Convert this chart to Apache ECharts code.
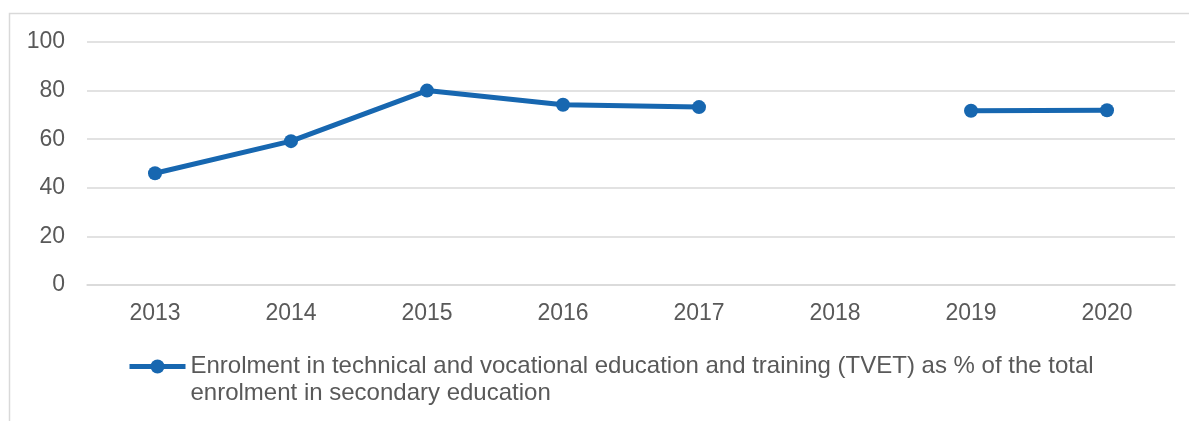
<!DOCTYPE html>
<html>
<head>
<meta charset="utf-8">
<script src="https://cdn.jsdelivr.net/npm/echarts@6/dist/echarts.min.js"></script>
<style>
html,body{margin:0;padding:0;background:#fff;}
#c{width:1189px;height:421px;}
</style>
</head>
<body>
<div id="c"></div>
<script>
const categories = ['2013','2014','2015','2016','2017','2018','2019','2020'];
const tvetShare = [46, 59.2, 80, 74.2, 73.2, null, 71.7, 71.9];
const seriesName = 'Enrolment in technical and vocational education and training (TVET) as % of the total\nenrolment in secondary education';
const yTicks = [0, 20, 40, 60, 80, 100];

const chart = echarts.init(document.getElementById('c'), null, {renderer:'canvas'});
const font = 'Liberation Sans, Arial, sans-serif';
const blue = '#1767b0';
chart.setOption({
  animation: false,
  backgroundColor: '#ffffff',
  graphic: [{
    type: 'rect',
    shape: {x: 9.5, y: 13.5, width: 1200, height: 500},
    style: {fill: 'none', stroke: '#d9d9d9', lineWidth: 1.5},
    silent: true, z: -1
  }],
  grid: {left: 87, right: 14, top: 42, bottom: 136},
  xAxis: {
    type: 'category',
    data: categories,
    boundaryGap: true,
    axisLine: {show: true, lineStyle: {color: '#d9d9d9', width: 1.5}},
    axisTick: {show: false},
    axisLabel: {color: '#595959', fontSize: 23, fontFamily: font, margin: 17}
  },
  yAxis: {
    type: 'value',
    min: yTicks[0],
    max: yTicks[yTicks.length - 1],
    interval: 20,
    axisLine: {show: false},
    axisTick: {show: false},
    splitLine: {lineStyle: {color: '#d9d9d9', width: 1.5}},
    axisLabel: {color: '#595959', fontSize: 23, fontFamily: font, margin: 22}
  },
  legend: {
    show: true,
    left: 122,
    top: 321,
    itemWidth: 56,
    itemHeight: 17.5,
    itemGap: 0,
    lineStyle: {width: 5},
    formatter: function (name) { return '\n' + name; },
    textStyle: {color: '#595959', fontSize: 24, fontFamily: font, lineHeight: 27},
    data: [seriesName]
  },
  series: [{
    name: seriesName,
    type: 'line',
    data: tvetShare,
    connectNulls: false,
    symbol: 'circle',
    symbolSize: 14,
    showSymbol: true,
    lineStyle: {color: blue, width: 5},
    itemStyle: {color: blue}
  }]
});
</script>
</body>
</html>
